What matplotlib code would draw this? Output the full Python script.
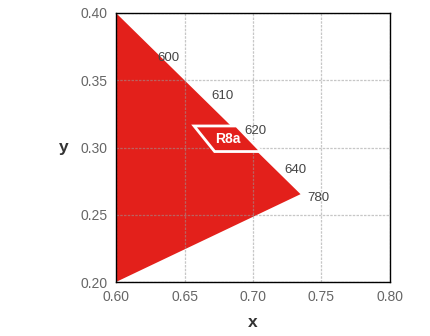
import matplotlib.pyplot as plt
from matplotlib.patches import Polygon

plt.rcParams['font.family'] = ['Liberation Sans', 'DejaVu Sans']

# gamut triangle corners (CIE x, y)
tri_x = [0.600, 0.7347, 0.600]
tri_y = [0.400, 0.2653, 0.200]

# R8a bin quadrilateral
bin_x = [0.657, 0.688, 0.706, 0.672]
bin_y = [0.316, 0.316, 0.297, 0.297]
bin_name = "R8a"

# wavelength labels
wl_labels = ["600", "610", "620", "640", "780"]
wl_x = [0.638, 0.678, 0.702, 0.731, 0.748]
wl_y = [0.3665, 0.338, 0.3125, 0.283, 0.2625]

xticks = [0.60, 0.65, 0.70, 0.75, 0.80]
yticks = [0.20, 0.25, 0.30, 0.35, 0.40]

fig = plt.figure(figsize=(4.3, 3.36), dpi=100)
ax = fig.add_axes([116/430, 1-282/336, 274/430, 269/336])

ax.add_patch(Polygon(list(zip(tri_x, tri_y)), closed=True,
                     facecolor='#e3201b', edgecolor='none', zorder=1))
ax.add_patch(Polygon(list(zip(bin_x, bin_y)), closed=True,
                     facecolor='#e3201b', edgecolor='white', lw=2, zorder=4))
ax.text(sum(bin_x)/4 + 0.001, sum(bin_y)/4 - 0.0005, bin_name, color='white', fontsize=10,
        fontweight='bold', ha='center', va='center', zorder=5)

for lab, x, y in zip(wl_labels, wl_x, wl_y):
    ax.text(x, y, lab, fontsize=9.5, color='#444444', ha='center', va='center', zorder=5)

ax.set_xlim(0.60, 0.80)
ax.set_ylim(0.20, 0.40)
ax.set_xticks(xticks)
ax.set_yticks(yticks)
ax.set_xticklabels(["%.2f" % t for t in xticks])
ax.set_yticklabels(["%.2f" % t for t in yticks])
ax.tick_params(length=0, labelsize=10, labelcolor='#666666', pad=6)
ax.grid(True, color='#999999', lw=0.9, alpha=0.55, linestyle=(0, (2, 1)), zorder=2)
ax.set_axisbelow(False)
for s in ax.spines.values():
    s.set_color('black')
    s.set_linewidth(1)
    s.set_zorder(6)

ax.set_xlabel("x", fontsize=12.5, fontweight='bold', color='#333333', labelpad=8)
ax.set_ylabel("y", fontsize=12.5, fontweight='bold', color='#333333', rotation=0,
              labelpad=12, va='center')

fig.savefig("out.png", dpi=100)
